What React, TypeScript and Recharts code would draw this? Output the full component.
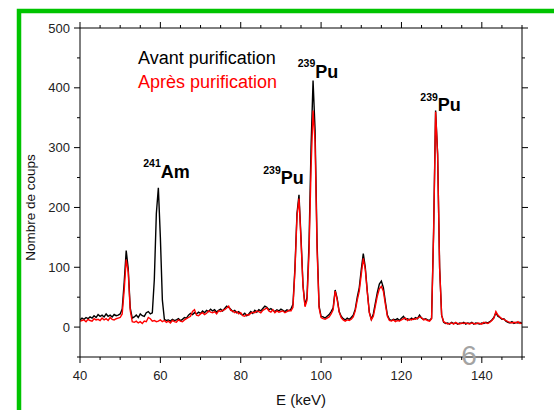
import { LineChart, Line, XAxis, YAxis, ReferenceDot } from "recharts";

// gamma spectrum, 0.5 keV per channel, starting at 40 keV
const avant = [
  12, 15, 13, 16, 14, 17, 15, 19, 16, 21, 18, 20, 17, 22, 18, 20, 17, 21, 19, 20, // 40
  22, 30, 75, 128, 98, 32, 15, 17, 20, 16, 22, 19, 18, 24, 26, 22, 24, 80, 190, 233, // 50
  150, 45, 13, 11, 12, 10, 13, 11, 12, 14, 11, 13, 16, 15, 20, 23, 21, 24, 22, 25, // 60
  23, 27, 24, 28, 26, 30, 27, 29, 25, 28, 30, 27, 31, 35, 33, 30, 26, 28, 24, 26, // 70
  22, 20, 23, 19, 22, 26, 23, 28, 25, 29, 27, 31, 35, 33, 29, 31, 28, 26, 29, 27, // 80
  30, 28, 26, 29, 27, 30, 38, 100, 190, 221, 150, 70, 36, 50, 140, 300, 412, 330, 140, 35, // 90
  18, 17, 15, 18, 21, 26, 32, 62, 48, 26, 18, 14, 12, 15, 13, 16, 20, 30, 50, 66, // 100
  96, 123, 100, 60, 25, 13, 22, 40, 58, 72, 77, 66, 42, 20, 13, 11, 13, 12, 14, 11, // 110
  15, 18, 13, 14, 12, 15, 13, 16, 14, 20, 15, 13, 14, 12, 11, 15, 160, 362, 290, 100, // 120
  20, 8, 6, 7, 5, 8, 6, 7, 5, 7, 6, 8, 5, 7, 6, 8, 5, 7, 6, 5, // 130
  7, 6, 8, 7, 9, 12, 16, 24, 18, 16, 13, 14, 10, 8, 7, 9, 6, 8, 7, 8, 6, // 140-150
];

const apres = [
  10, 11, 12, 9, 13, 11, 10, 14, 12, 13, 11, 15, 12, 14, 11, 16, 13, 12, 14, 15,
  16, 22, 62, 113, 92, 28, 9, 8, 10, 7, 9, 6, 10, 9, 16, 14, 10, 11, 9, 10,
  12, 9, 11, 8, 10, 7, 11, 9, 8, 12, 10, 9, 12, 14, 16, 18, 26, 29, 20, 19,
  22, 24, 21, 23, 27, 25, 24, 26, 22, 27, 26, 28, 29, 32, 35, 28, 27, 24, 26, 22,
  24, 19, 18, 21, 20, 23, 25, 24, 27, 26, 24, 28, 30, 32, 27, 25, 29, 24, 27, 25,
  26, 27, 24, 26, 28, 27, 33, 95, 185, 215, 145, 68, 34, 45, 125, 265, 362, 310, 130, 32,
  16, 14, 13, 15, 17, 22, 29, 60, 46, 25, 16, 12, 10, 12, 11, 13, 17, 27, 45, 60,
  88, 115, 96, 58, 24, 12, 18, 35, 52, 64, 68, 60, 38, 18, 11, 10, 12, 9, 11, 10,
  12, 14, 15, 11, 13, 12, 14, 13, 15, 17, 16, 12, 13, 11, 10, 14, 155, 360, 288, 98,
  20, 9, 7, 5, 6, 7, 5, 8, 6, 5, 7, 6, 7, 6, 5, 7, 6, 5, 7, 6,
  5, 8, 7, 6, 8, 11, 15, 26, 20, 17, 14, 13, 11, 9, 8, 7, 8, 7, 9, 6, 7,
];

const energy = avant.map((_, i) => 40 + i * 0.5);

const xTicks = [40, 45, 50, 55, 60, 65, 70, 75, 80, 85, 90, 95, 100, 105, 110, 115, 120, 125, 130, 135, 140, 145, 150];
const yTicks = [-50, 0, 50, 100, 150, 200, 250, 300, 350, 400, 450, 500];

const seriesNames = ["Avant purification", "Après purification"];
const seriesColors = ["#000000", "#ff0000"];

const peaks = [
  { e: 55.75, v: 250, mass: "241", el: "Am" },
  { e: 85.6, v: 239, mass: "239", el: "Pu" },
  { e: 94.2, v: 417, mass: "239", el: "Pu" },
  { e: 124.7, v: 361, mass: "239", el: "Pu" },
];

const data = energy.map((e, i) => ({ e, avant: avant[i], apres: apres[i] }));

const FONT = "'Liberation Sans', Arial, sans-serif";

function BottomTick({ x, y, payload }: any) {
  const major = payload.value % 20 === 0;
  return (
    <g>
      <line x1={x} x2={x} y1={y} y2={y + (major ? 6 : 3)} stroke="#000" />
      {major && (
        <text x={x} y={y + 22.5} textAnchor="middle" fontSize={13} fill="#222" fontFamily={FONT}>
          {payload.value}
        </text>
      )}
    </g>
  );
}

function TopTick({ x, y, payload }: any) {
  const major = payload.value % 20 === 0;
  return <line x1={x} x2={x} y1={y} y2={y - (major ? 6 : 3)} stroke="#000" />;
}

function LeftTick({ x, y, payload }: any) {
  const major = payload.value % 100 === 0;
  return (
    <g>
      <line x1={x} x2={x - (major ? 6 : 3)} y1={y} y2={y} stroke="#000" />
      {major && (
        <text x={x - 10} y={y + 4.6} textAnchor="end" fontSize={13} fill="#222" fontFamily={FONT}>
          {payload.value}
        </text>
      )}
    </g>
  );
}

function RightTick({ x, y, payload }: any) {
  const major = payload.value % 100 === 0;
  return <line x1={x} x2={x + (major ? 6 : 3)} y1={y} y2={y} stroke="#000" />;
}

function XLabel({ viewBox }: any) {
  return (
    <text x={viewBox.x + viewBox.width / 2} y={viewBox.y + 48} textAnchor="middle" fontSize={15} fill="#111" fontFamily={FONT}>
      E (keV)
    </text>
  );
}

function YLabel({ viewBox }: any) {
  const x = viewBox.x + 4.5;
  const y = viewBox.y + viewBox.height / 2 + 15;
  return (
    <text x={x} y={y} transform={`rotate(-90 ${x} ${y})`} textAnchor="middle" fontSize={13.5} fill="#111" fontFamily={FONT}>
      Nombre de coups
    </text>
  );
}

function PeakLabel({ cx, cy, mass, el }: any) {
  return (
    <text x={cx} y={cy} fontFamily={FONT} fontWeight="bold" fill="#000">
      <tspan fontSize={10.5} dy={-10.5}>{mass}</tspan>
      <tspan fontSize={18} dy={10.5}>{el}</tspan>
    </text>
  );
}

export default function App() {
  return (
    <div style={{ position: "absolute", left: 0, top: 0, width: 554, height: 410, background: "#fff" }}>
      <LineChart width={554} height={410} data={data} margin={{ top: 20, right: 22, bottom: 23, left: 30 }}>
        <XAxis
          xAxisId="b"
          dataKey="e"
          type="number"
          domain={[40, 150]}
          allowDataOverflow
          ticks={xTicks}
          interval={0}
          tickSize={0}
          tickMargin={0}
          tick={(p: any) => <BottomTick {...p} />}
          height={30}
          stroke="#000"
          label={{ content: XLabel }}
        />
        <XAxis
          xAxisId="t"
          dataKey="e"
          orientation="top"
          type="number"
          domain={[40, 150]}
          allowDataOverflow
          ticks={xTicks}
          interval={0}
          tickSize={0}
          tickMargin={0}
          tick={(p: any) => <TopTick {...p} />}
          height={8}
          stroke="#000"
        />
        <YAxis
          yAxisId="l"
          type="number"
          domain={[-50, 500]}
          allowDataOverflow
          ticks={yTicks}
          interval={0}
          tickSize={0}
          tickMargin={0}
          tick={(p: any) => <LeftTick {...p} />}
          width={50}
          stroke="#000"
          label={{ content: YLabel }}
        />
        <YAxis
          yAxisId="r"
          orientation="right"
          type="number"
          domain={[-50, 500]}
          allowDataOverflow
          ticks={yTicks}
          interval={0}
          tickSize={0}
          tickMargin={0}
          tick={(p: any) => <RightTick {...p} />}
          width={10}
          stroke="#000"
        />
        <Line
          xAxisId="b"
          yAxisId="l"
          type="linear"
          dataKey="avant"
          name={seriesNames[0]}
          stroke={seriesColors[0]}
          strokeWidth={1.4}
          dot={false}
          isAnimationActive={false}
        />
        <Line
          xAxisId="b"
          yAxisId="l"
          type="linear"
          dataKey="apres"
          name={seriesNames[1]}
          stroke={seriesColors[1]}
          strokeWidth={1.4}
          dot={false}
          isAnimationActive={false}
        />
        {peaks.map((p, i) => (
          <ReferenceDot
            key={i}
            xAxisId="b"
            yAxisId="l"
            x={p.e}
            y={p.v}
            r={0}
            shape={(s: any) => <PeakLabel {...s} mass={p.mass} el={p.el} />}
          />
        ))}
      </LineChart>
      <svg width={554} height={410} style={{ position: "absolute", left: 0, top: 0, pointerEvents: "none" }}>
        <path d="M 19 410 L 19 11 L 554 11" fill="none" stroke="#00c400" strokeWidth={4.5} />
        {seriesNames.map((n, i) => (
          <text key={n} x={138} y={64 + i * 23.5} fontSize={18} fill={seriesColors[i]} fontFamily={FONT}>
            {n}
          </text>
        ))}
        <text x={469} y={365} textAnchor="middle" fontSize={28} fill="#a3a3a3" fontFamily={FONT}>
          6
        </text>
      </svg>
    </div>
  );
}
